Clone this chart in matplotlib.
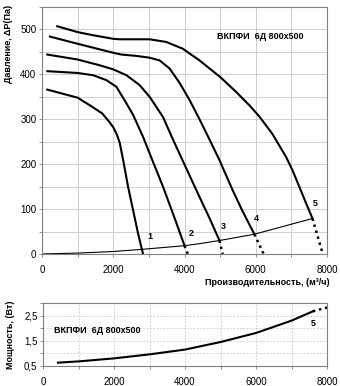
import matplotlib
matplotlib.use("Agg")
import matplotlib.pyplot as plt
from matplotlib.ticker import MultipleLocator

plt.rcParams["font.family"] = ["Liberation Sans", "DejaVu Sans"]
plt.rcParams["font.size"] = 7

# pressure curves (Pa) vs flow (m3/h)
q1 = [148, 1000, 1343, 1690, 1900, 2000, 2090, 2180, 2275, 2415, 2555, 2695, 2835]
p1 = [366, 348, 331, 313, 293, 282, 268, 248, 210, 150, 98, 46, 0]
q2 = [148, 1000, 1436, 1810, 2090, 2320, 2555, 2835, 3020, 3395, 3675, 4000]
p2 = [407, 403, 398, 387, 372, 342, 310, 261, 224, 150, 90, 18.5]
q3 = [148, 1000, 1622, 2000, 2370, 2740, 3020, 3395, 3675, 4140, 4420, 4700, 4980]
p3 = [444, 433, 420, 411, 398, 376, 350, 305, 255, 175, 127, 80, 30]
q4 = [224, 1000, 2000, 2230, 2650, 3020, 3300, 3580, 3860, 4140, 4420, 4700,
      4980, 5350, 5630, 5960]
p4 = [484, 468, 448, 444, 441, 437, 431, 413, 381, 343, 300, 255, 209, 142, 95, 44]
q5 = [429, 1000, 1436, 2000, 2180, 2740, 3020, 3490, 3950, 4420, 5000, 5445, 5820,
      6100, 6460, 6850, 7020, 7220, 7400, 7590]
p5 = [507, 494, 487, 479, 478, 478, 478, 472, 457, 431, 394, 361, 331, 306, 268,
      216, 188, 150, 115, 79]

# dotted extensions below the network line
ext_q = [[4000, 4090], [4980, 5070], [5960, 6220], [7590, 7880]]
ext_p = [[18.5, 0], [30, 0], [44, 0], [79, 0]]

# network characteristic
sys_q = [0, 1000, 2000, 2835, 4000, 4420, 4980, 5960, 7590]
sys_p = [0, 2, 5.5, 10.5, 18.5, 23, 30, 44, 79]

labels = ["1", "2", "3", "4", "5"]
label_q = [3020, 4190, 5090, 6020, 7655]
label_p = [38, 46, 61, 78, 113]

# power curve
pw_q = [420, 1000, 2000, 3000, 4000, 5000, 6000, 7000, 7600]
pw_n = [0.63, 0.68, 0.80, 0.96, 1.15, 1.45, 1.81, 2.30, 2.67]
pw_ext_q = [7600, 8000]
pw_ext_n = [2.67, 2.82]

title = "ВКПФИ  6Д 800х500"

fig = plt.figure(figsize=(3.4, 3.86), dpi=100)
ax = fig.add_axes([0.1235, 0.342, 0.8385, 0.640])
ax2 = fig.add_axes([0.1265, 0.052, 0.8355, 0.163])

for q, p in [(q1, p1), (q2, p2), (q3, p3), (q4, p4), (q5, p5)]:
    ax.plot(q, p, color="black", lw=1.5, solid_joinstyle="round")
for q, p in zip(ext_q, ext_p):
    ax.plot(q, p, color="black", lw=1.8, ls=(0, (1, 1.5)))
ax.plot(sys_q, sys_p, color="black", lw=0.8)
for t, x, y in zip(labels, label_q, label_p):
    ax.text(x, y, t, fontsize=6.5, fontweight="bold", ha="center", va="center")
ax.text(0.615, 0.88, title, transform=ax.transAxes, fontsize=6.5,
        fontweight="bold", va="center")

ax.set_xlim(0, 8000)
ax.set_ylim(0, 550)
ax.set_xticks([0, 2000, 4000, 6000, 8000])
ax.set_yticks([0, 100, 200, 300, 400, 500])
ax.xaxis.set_minor_locator(MultipleLocator(1000))
ax.yaxis.set_minor_locator(MultipleLocator(50))
ax.grid(True, which="both", color="#c8c8c8", lw=0.6)
ax.set_axisbelow(True)

ax2.plot(pw_q, pw_n, color="black", lw=1.5, solid_joinstyle="round")
ax2.plot(pw_ext_q, pw_ext_n, color="black", lw=1.8, ls=(0, (1, 1.5)))
ax2.text(7600, 2.2, "5", fontsize=6.5, fontweight="bold", ha="center", va="center")
ax2.text(0.04, 0.52, title, transform=ax2.transAxes, fontsize=6.5, fontweight="bold")
ax2.set_xlim(0, 8000)
ax2.set_ylim(0.5, 3.0)
ax2.set_xticks([0, 2000, 4000, 6000, 8000])
ax2.set_yticks([0.5, 1.5, 2.5])
ax2.set_yticklabels(["0,5", "1,5", "2,5"])
ax2.xaxis.set_minor_locator(MultipleLocator(1000))
ax2.yaxis.set_minor_locator(MultipleLocator(0.5))
ax2.grid(True, which="both", color="#c8c8c8", lw=0.6, ls=(0, (2, 2)))
ax2.set_axisbelow(True)

for a in (ax, ax2):
    for s in a.spines.values():
        s.set_color("#808080")
        s.set_linewidth(0.8)
    a.tick_params(which="both", length=2, color="#808080", width=0.6, labelsize=7, pad=2)
    a.tick_params(axis="x", pad=6)

fig.text(0.025, 0.987, "Давление, ΔP(Па)", rotation=90, ha="center", va="top",
         fontsize=6.5, fontweight="bold")
fig.text(0.97, 0.267, "Производительность, (м³/ч)", ha="right", va="center",
         fontsize=6.5, fontweight="bold")
fig.text(0.03, 0.133, "Мощность, (Вт)", rotation=90, ha="center", va="center",
         fontsize=6.5, fontweight="bold")

fig.savefig("out.png", dpi=100)
